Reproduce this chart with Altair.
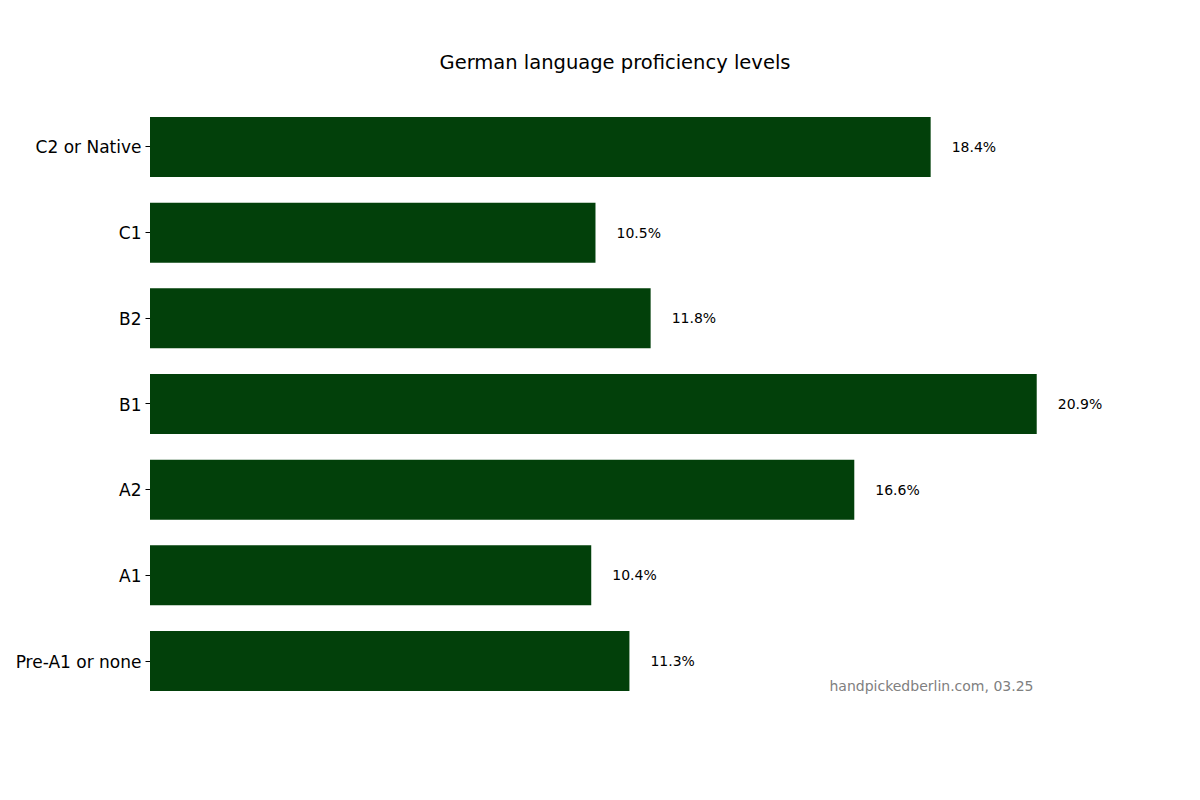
import altair as alt
import pandas as pd

levels = ["C2 or Native", "C1", "B2", "B1", "A2", "A1", "Pre-A1 or none"]
shares = [18.4, 10.5, 11.8, 20.9, 16.6, 10.4, 11.3]
labels = [f"{v}%" for v in shares]

df = pd.DataFrame({"level": levels, "share": shares, "label": labels})

FONT = "DejaVu Sans"
GREEN = "#02400A"

y_enc = alt.Y("level:N", sort=levels, title=None,
              scale=alt.Scale(paddingInner=0.3, paddingOuter=0.245),
              axis=alt.Axis(domain=False, ticks=True, tickSize=5, tickColor="black",
                            labelFontSize=17, labelColor="black", labelFont=FONT,
                            labelPadding=4, labelOffset=1.5, grid=False))
x_scale = alt.Scale(domain=[0, 21.92], nice=False, zero=True)

bars = alt.Chart(df).mark_bar(color=GREEN).encode(
    x=alt.X("share:Q", scale=x_scale, axis=None),
    y=y_enc,
)

text = alt.Chart(df).mark_text(align="left", baseline="middle", dx=21, dy=1,
                               fontSize=14, font=FONT, color="black").encode(
    x=alt.X("share:Q", scale=x_scale, axis=None),
    y=alt.Y("level:N", sort=levels),
    text="label:N",
)

note = alt.Chart(pd.DataFrame({"t": ["handpickedberlin.com, 03.25"]})).mark_text(
    align="right", baseline="bottom", fontSize=14, font=FONT, color="#808080"
).encode(
    x=alt.value(883.5), y=alt.value(598), text="t:N"
)

chart = alt.layer(bars, text, note).properties(
    width=930, height=616,
    background="white",
    title=alt.TitleParams("German language proficiency levels", fontSize=19.5,
                          font=FONT, fontWeight="normal", color="black",
                          anchor="middle", offset=23),
    autosize=alt.AutoSizeParams(type="none"),
    padding={"left": 142, "top": 88, "right": 110, "bottom": 80},
).configure_view(stroke=None, strokeWidth=0).configure_axis(grid=False)

chart.save("out.html", embed_options={"renderer": "svg", "actions": False})
